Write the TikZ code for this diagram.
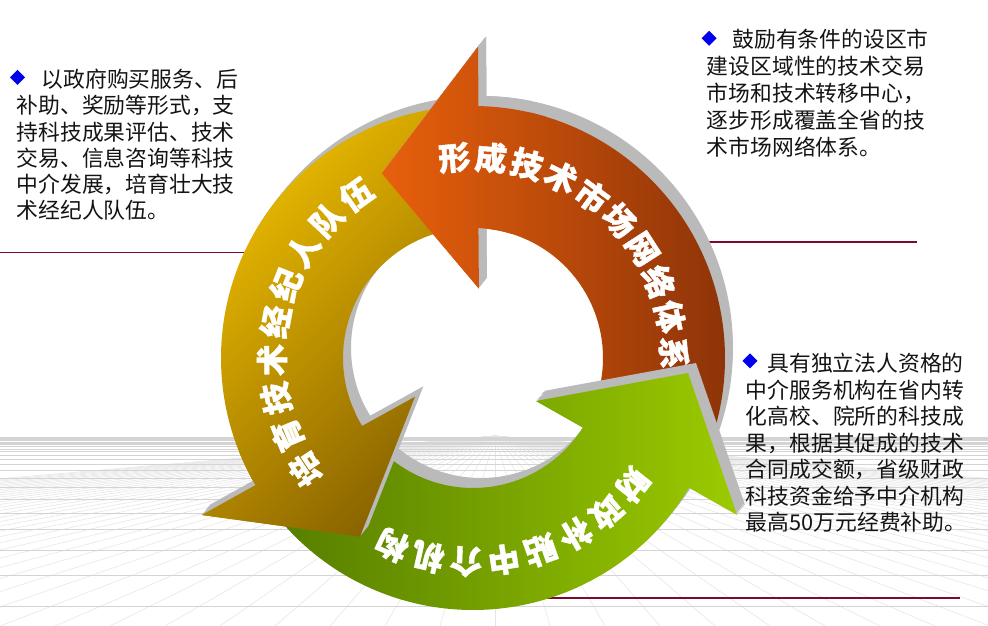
\documentclass[tikz,border=0pt]{standalone}
\usepackage{fontspec}
\newfontfamily\cjk{Noto Sans CJK SC}
\newfontfamily\cjkarc{Noto Sans CJK SC}[BoldFeatures={FakeBold=1.2}]
\definecolor{orangeL}{RGB}{232,96,12}
\definecolor{orangeD}{RGB}{138,50,8}
\definecolor{yellowL}{RGB}{238,190,0}
\definecolor{yellowD}{RGB}{138,100,0}
\definecolor{greenL}{RGB}{156,202,0}
\definecolor{greenD}{RGB}{86,126,0}
\definecolor{extr}{RGB}{186,186,186}
\definecolor{rulecol}{RGB}{125,10,45}
\definecolor{floorH}{RGB}{212,212,212}
\definecolor{floorR}{RGB}{230,230,230}
\definecolor{bulletblue}{RGB}{0,0,238}
\tikzset{
  arctext/.style={text=white, inner sep=0pt, font=\cjkarc\bfseries\fontsize{32}{32}\selectfont},
  sidetext/.style={text=black!92, inner sep=0pt, anchor=base west, font=\cjk\fontsize{21.8}{26}\selectfont},
  extrusion/.style={fill=extr, draw=none},
  rulerline/.style={draw=rulecol, line width=1.1pt},
  floorh/.style={draw=floorH, line width=0.6pt},
  floorr/.style={draw=floorR, line width=0.55pt},
  bulletmark/.style={fill=bulletblue, draw=none},
  orangeface/.style={left color=orangeL, right color=orangeD},
  yellowface/.style={top color=yellowL, bottom color=yellowD, shading angle=45},
  greenface/.style={left color=greenD, right color=greenL}
}
\def\OP{([shift={(473,268)}]-22:252) arc[start angle=-22, end angle=88.75, radius=252] -- (478,579.3) -- (381.7,452.7) -- (478.9,337.4) -- ([shift={(473,268)}]87.6:130) arc[start angle=87.6, end angle=-22, radius=130] -- cycle}
\def\GP{([shift={(473,268)}]220:252) arc[start angle=220, end angle=329, radius=252] -- (737,111) -- (688,253) -- (535.7,225) -- ([shift={(473,268)}]327.6:130) arc[start angle=327.6, end angle=220, radius=130] -- cycle}
\def\YP{([shift={(473,268)}]97:252) arc[start angle=97, end angle=210.3, radius=252] -- (201.7,111) -- (360,89.3) -- (415,229.3) -- ([shift={(473,268)}]211.5:130) arc[start angle=211.5, end angle=97, radius=130] -- cycle}
\newcommand\extrude[1]{\foreach \s in {1,...,8}{\fill[extrusion, shift={(\s,1.25*\s)}] #1;}}
\newcommand\bulletat[2]{\fill[bulletmark] (#1-7.5,#2) -- (#1,#2+7.5) -- (#1+7.5,#2) -- (#1,#2-7.5) -- cycle;}
\newcommand\sectorpath[2]{(473,268) -- ([shift={(473,268)}]#1:470) arc[start angle=#1, end angle=#2, radius=470] -- cycle}
\begin{document}
\begin{tikzpicture}[x=1pt,y=1pt]
\useasboundingbox (0,0) rectangle (988,626);
\fill[white] (0,0) rectangle (988,626);
% floor grid
\begin{scope}
\clip (0,0) rectangle (988,190);
\foreach \k in {-40,...,40}{\pgfmathsetmacro\xx{495+165*\k}\draw[floorr] (495,190) -- (\xx,-380);}
\foreach \k in {0,...,26}{\pgfmathsetmacro\yy{190-170*0.82^\k}\draw[floorh] (0,\yy) -- (988,\yy);}
\end{scope}
% rules
\draw[rulerline] (0,373.3) -- (272,373.3);
\draw[rulerline] (665,384) -- (917,384);
\draw[rulerline] (531,28) -- (960,28);
% arrows
\extrude{\OP}
\shade[orangeface] \OP;
\extrude{\YP}
\shade[yellowface] \YP;
\extrude{\GP}
\shade[greenface] \GP;
% yellow head over green tail
\begin{scope}
\clip \sectorpath{205}{243};
\extrude{\YP}
\end{scope}
\begin{scope}
\clip \sectorpath{202}{246};
\shade[yellowface] \YP;
\end{scope}
% orange head over yellow tail
\begin{scope}
\clip \sectorpath{77}{129};
\extrude{\OP}
\end{scope}
\begin{scope}
\clip \sectorpath{73}{133};
\shade[orangeface] \OP;
\end{scope}
% arc texts
\foreach \c [count=\i from 0] in {形,成,技,术,市,场,网,络,体,系}{
  \pgfmathsetmacro\a{95.3-10.43*\i}
  \node[arctext, rotate=\a-90] (ot\i) at ([shift={(473,268)}]\a:201) {\c};
}
\foreach \c [count=\i from 0] in {培,育,技,术,经,纪,人,队,伍}{
  \pgfmathsetmacro\a{213.6-11*\i}
  \node[arctext, rotate=\a-90] (yt\i) at ([shift={(473,268)}]\a:201) {\c};
}
\foreach \c [count=\i from 0] in {财,政,补,贴,中,介,机,构}{
  \pgfmathsetmacro\a{-38.5-10.7*\i}
  \node[arctext, rotate=\a-90] (gt\i) at ([shift={(473,268)}]\a:204) {\c};
}
% bullets
\bulletat{17.5}{548.5}
\bulletat{709.2}{587.7}
\bulletat{750}{265.2}
% top-left text
\node[sidetext] (tl1) at (41.5,538.5) {以政府购买服务、后};
\node[sidetext] (tl2) at (16.5,512.2) {补助、奖励等形式，支};
\node[sidetext] (tl3) at (16.5,485.9) {持科技成果评估、技术};
\node[sidetext] (tl4) at (16.5,459.6) {交易、信息咨询等科技};
\node[sidetext] (tl5) at (16.5,433.3) {中介发展，培育壮大技};
\node[sidetext] (tl6) at (16.5,407.0) {术经纪人队伍。};
% top-right text
\node[sidetext] (tr1) at (732.3,578.4) {鼓励有条件的设区市};
\node[sidetext] (tr2) at (706.7,551.4) {建设区域性的技术交易};
\node[sidetext] (tr3) at (706.7,524.4) {市场和技术转移中心，};
\node[sidetext] (tr4) at (706.7,497.4) {逐步形成覆盖全省的技};
\node[sidetext] (tr5) at (706.7,470.4) {术市场网络体系。};
% right text
\node[sidetext] (r1) at (767.3,254.4) {具有独立法人资格的};
\node[sidetext] (r2) at (745.7,227.9) {中介服务机构在省内转};
\node[sidetext] (r3) at (745.7,201.4) {化高校、院所的科技成};
\node[sidetext] (r4) at (745.7,174.9) {果，根据其促成的技术};
\node[sidetext] (r5) at (745.7,148.4) {合同成交额，省级财政};
\node[sidetext] (r6) at (745.7,121.9) {科技资金给予中介机构};
\node[sidetext] (r7) at (745.7,95.4) {最高50万元经费补助。};
\end{tikzpicture}
\end{document}
